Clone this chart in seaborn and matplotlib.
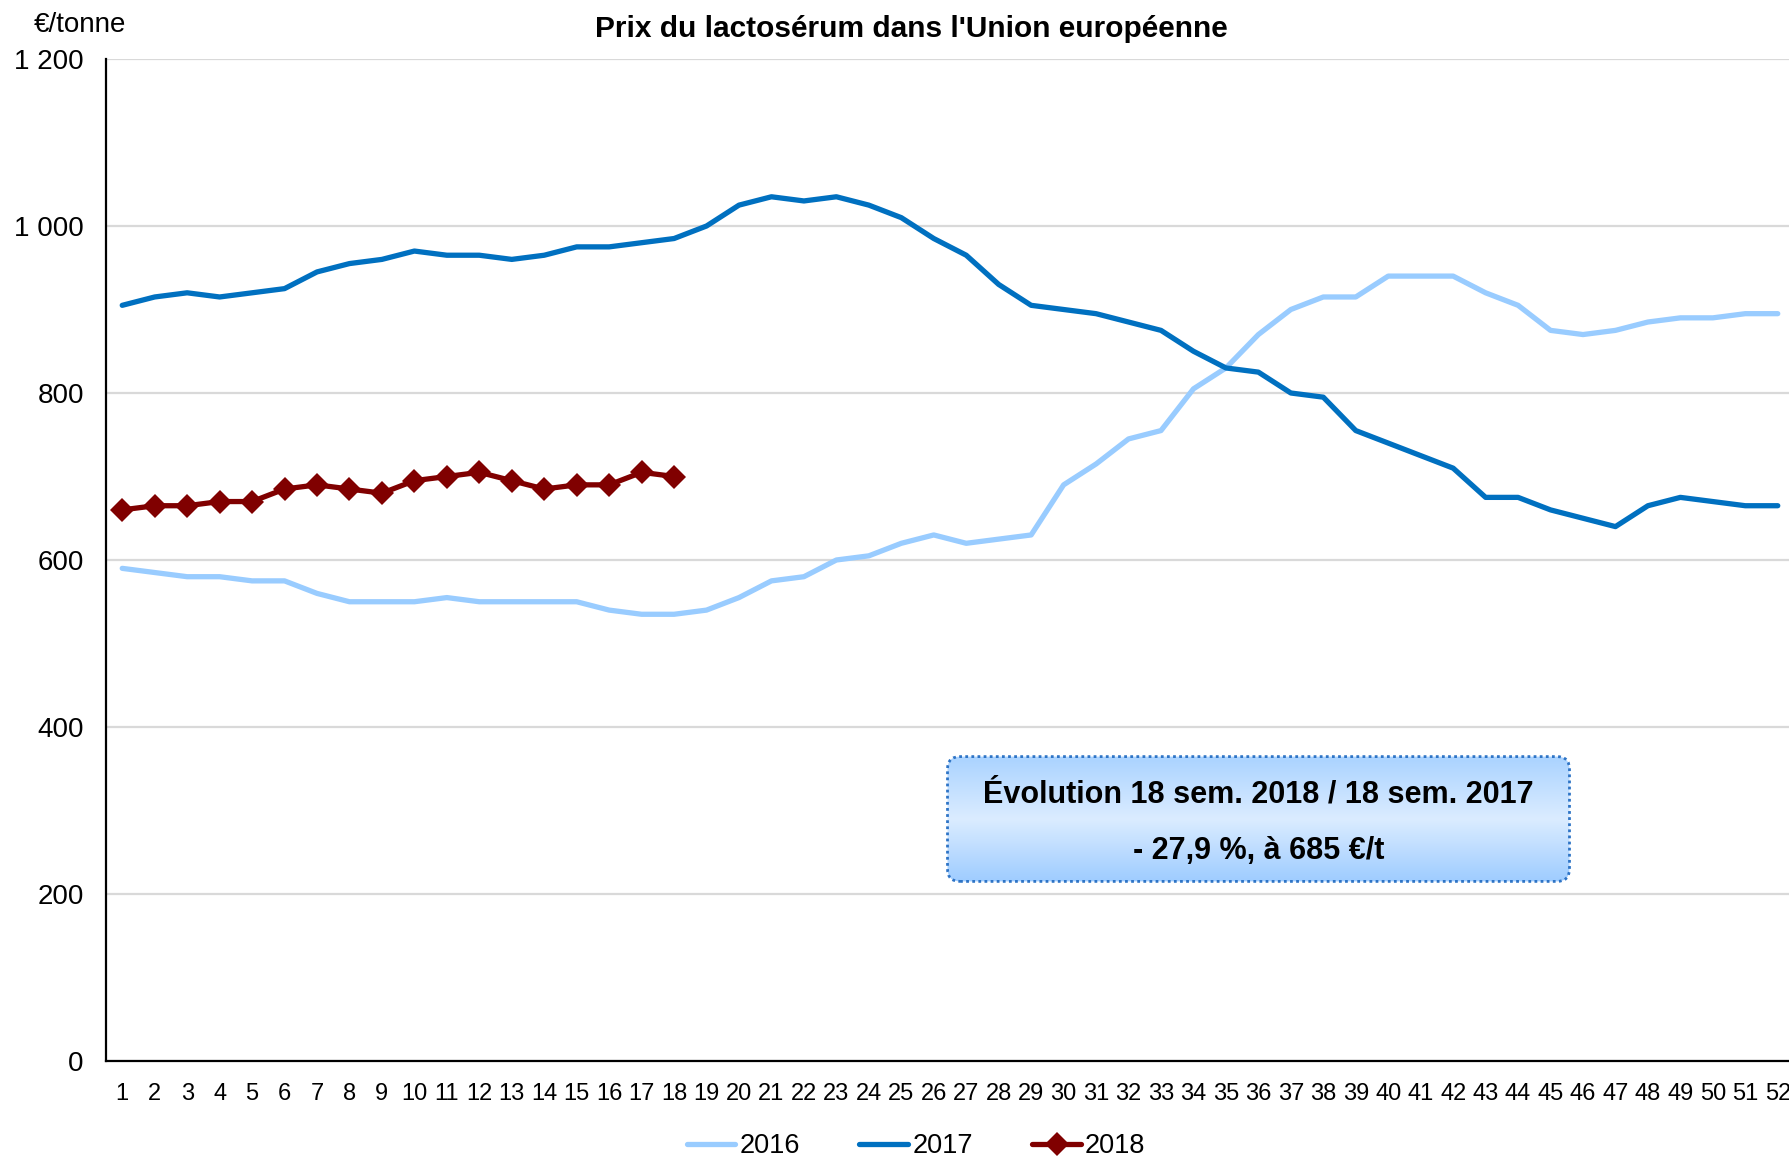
"""
Prix du lactosérum dans l'Union européenne, semaines 2016-2018
"""

# import section
import numpy as np
import pandas as pd
import seaborn as sns
import matplotlib.pyplot as plt
from matplotlib.patches import FancyBboxPatch
from matplotlib.colors import LinearSegmentedColormap
from matplotlib.ticker import FuncFormatter, MultipleLocator

# data
WEEKS = list(range(1, 53))
PRICE_2016 = [590, 585, 580, 580, 575, 575, 560, 550, 550, 550,
              555, 550, 550, 550, 550, 540, 535, 535, 540, 555,
              575, 580, 600, 605, 620, 630, 620, 625, 630, 690,
              715, 745, 755, 805, 830, 870, 900, 915, 915, 940,
              940, 940, 920, 905, 875, 870, 875, 885, 890, 890,
              895, 895]
PRICE_2017 = [905, 915, 920, 915, 920, 925, 945, 955, 960, 970,
              965, 965, 960, 965, 975, 975, 980, 985, 1000, 1025,
              1035, 1030, 1035, 1025, 1010, 985, 965, 930, 905, 900,
              895, 885, 875, 850, 830, 825, 800, 795, 755, 740,
              725, 710, 675, 675, 660, 650, 640, 665, 675, 670,
              665, 665]
PRICE_2018 = [660, 665, 665, 670, 670, 685, 690, 685, 680, 695,
              700, 705, 695, 685, 690, 690, 705, 700]
SERIES = ['2016', '2017', '2018']
COLORS = {'2016': '#99ccff', '2017': '#0070c0', '2018': '#800000'}

TITLE = "Prix du lactosérum dans l'Union européenne"
UNIT = '€/tonne'
BOX_LINES = ['Évolution 18 sem. 2018 / 18 sem. 2017', '- 27,9 %, à 685 €/t']

# set plot dimensions
X_PIXELS, Y_PIXELS, DPI = 1789, 1158, 100
X_INCH, Y_INCH = X_PIXELS / DPI, Y_PIXELS / DPI

sns.set_style('white')
plt.rcParams['font.family'] = ['Liberation Sans', 'DejaVu Sans']
plt.rcParams['text.color'] = 'black'
plt.rcParams['xtick.color'] = 'black'
plt.rcParams['ytick.color'] = 'black'
plt.rcParams['xtick.labelcolor'] = 'black'
plt.rcParams['ytick.labelcolor'] = 'black'

fig = plt.figure(figsize=(X_INCH, Y_INCH), dpi=DPI)
ax = fig.add_axes([106 / X_PIXELS, 1 - 1061 / Y_PIXELS,
                   (1794 - 106) / X_PIXELS, (1061 - 59) / Y_PIXELS])

frames = {
    '2016': pd.DataFrame({'week': WEEKS, 'price': PRICE_2016}),
    '2017': pd.DataFrame({'week': WEEKS, 'price': PRICE_2017}),
    '2018': pd.DataFrame({'week': WEEKS[:len(PRICE_2018)], 'price': PRICE_2018}),
}
for name in SERIES:
    sns.lineplot(x='week', y='price', data=frames[name], ax=ax,
                 color=COLORS[name], linewidth=3.8, label=name,
                 marker='D' if name == '2018' else None,
                 markersize=12, markeredgewidth=0,
                 solid_capstyle='round', zorder=3)

# axes
ax.set_xlim(0.5, 52.5)
ax.set_ylim(0, 1200)
ax.set_xlabel('')
ax.set_ylabel('')
ax.yaxis.set_major_locator(MultipleLocator(200))
ax.yaxis.set_major_formatter(FuncFormatter(lambda v, p: f'{int(v):,}'.replace(',', ' ')))
ax.grid(axis='y', color='#d9d9d9', linewidth=1.6)
ax.set_axisbelow(True)

ax.set_xticks(np.arange(0.5, 53, 1))
ax.set_xticklabels([])
ax.set_xticks(WEEKS, minor=True)
ax.set_xticklabels([str(w) for w in WEEKS], minor=True)
ax.tick_params(axis='x', which='major', direction='out', length=7, width=1.3, color='black')
ax.tick_params(axis='x', which='minor', length=0, pad=16, labelsize=17)
ax.tick_params(axis='y', direction='out', length=7, width=1.3, color='black',
               pad=9, labelsize=20)

for side in ['top', 'right']:
    ax.spines[side].set_visible(False)
for side in ['left', 'bottom']:
    ax.spines[side].set_color('black')
    ax.spines[side].set_linewidth(1.6)

# texts
fig.text(911 / X_PIXELS, 1 - 29 / Y_PIXELS, TITLE, ha='center', va='center',
         fontsize=21.5, fontweight='bold')
fig.text(80 / X_PIXELS, 1 - 25 / Y_PIXELS, UNIT, ha='center', va='center', fontsize=20)

# legend
ax.get_legend().remove()
handles, labels = ax.get_legend_handles_labels()
fig.legend(handles, labels, loc='center', bbox_to_anchor=(916 / X_PIXELS, 1 - 1146 / Y_PIXELS),
           ncol=3, frameon=False, fontsize=19.5, handlelength=1.8,
           handletextpad=0.15, columnspacing=2.2)

# annotation box with gradient
bx0, bx1, by0, by1 = 945, 1572, 754, 884
box_ax = fig.add_axes([bx0 / X_PIXELS, 1 - by1 / Y_PIXELS,
                       (bx1 - bx0) / X_PIXELS, (by1 - by0) / Y_PIXELS])
box_ax.set_xlim(0, 1)
box_ax.set_ylim(0, 1)
box_ax.axis('off')
aspect = (bx1 - bx0) / (by1 - by0)
grad_cmap = LinearSegmentedColormap.from_list(
    'box', [(0, '#9ccbff'), (0.5, '#dbecff'), (1, '#a8d2ff')])
grad = np.linspace(0, 1, 256).reshape(-1, 1)
img = box_ax.imshow(grad, cmap=grad_cmap, extent=(0, 1, 0, 1), origin='lower',
                    aspect='auto', zorder=1)
clip = FancyBboxPatch((0.004, 0.02), 0.992, 0.96,
                      boxstyle='round,pad=0,rounding_size=0.02',
                      mutation_aspect=aspect, transform=box_ax.transAxes,
                      facecolor='none', edgecolor='none')
box_ax.add_patch(clip)
img.set_clip_path(clip)
border = FancyBboxPatch((0.004, 0.02), 0.992, 0.96,
                        boxstyle='round,pad=0,rounding_size=0.02',
                        mutation_aspect=aspect, transform=box_ax.transAxes,
                        facecolor='none', edgecolor='#2e74c6',
                        linewidth=2, linestyle=(0, (1, 1.2)), zorder=3)
box_ax.add_patch(border)
box_ax.text(0.5, 0.69, BOX_LINES[0], ha='center', va='center', fontsize=22,
            fontweight='bold')
box_ax.text(0.5, 0.25, BOX_LINES[1], ha='center', va='center', fontsize=22,
            fontweight='bold')

plt.savefig('out.png', dpi=DPI)
